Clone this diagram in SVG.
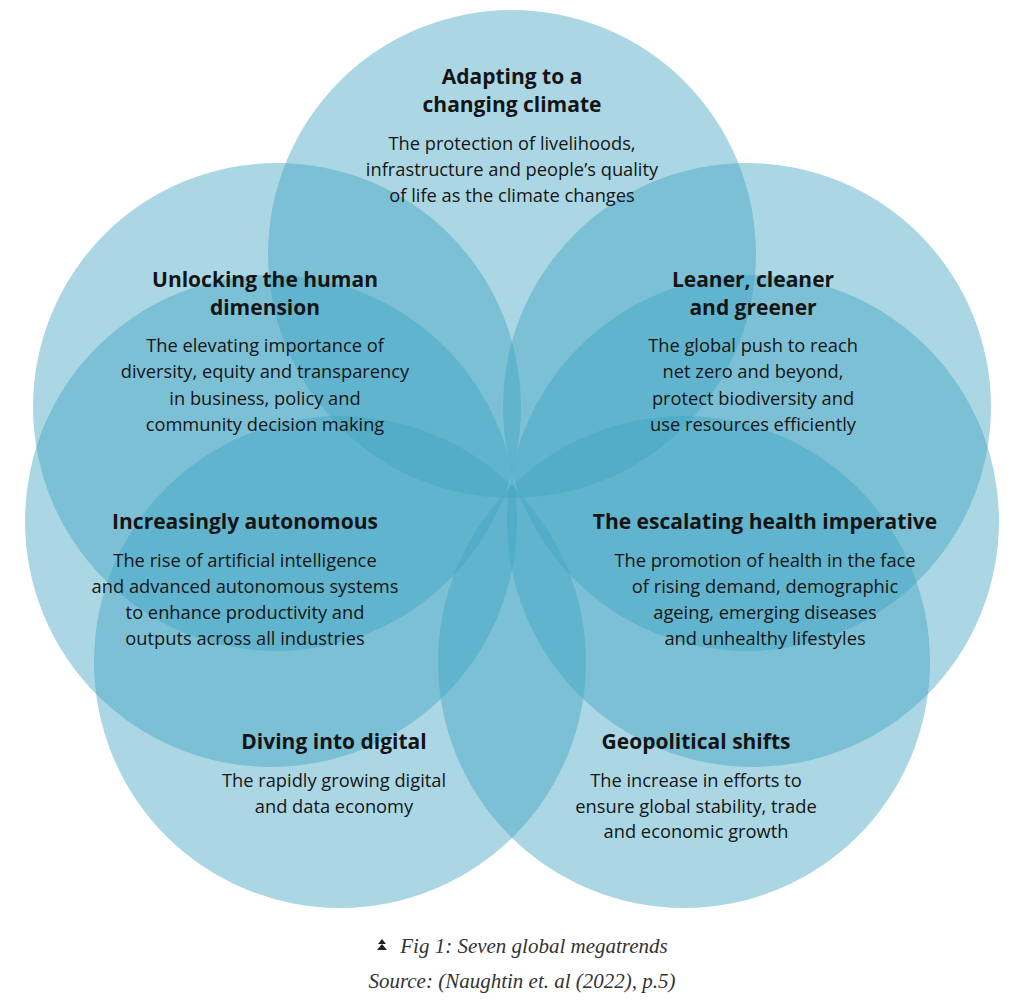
<svg xmlns="http://www.w3.org/2000/svg" width="1024" height="1002" viewBox="0 0 1024 1002">
<style>
.petal{fill:#3fa3c4;fill-opacity:0.44}
.t{font-family:"Open Sans","Noto Sans","Liberation Sans",sans-serif;font-weight:700;font-size:21px;fill:#141414;text-anchor:middle}
.b{font-family:"Open Sans","Noto Sans","Liberation Sans",sans-serif;font-weight:400;font-size:18.3px;fill:#151515;text-anchor:middle}
.cap{font-family:"Liberation Serif","DejaVu Serif",serif;font-style:italic;font-size:21px;fill:#333;text-anchor:middle}
</style>
<rect width="1024" height="1002" fill="#ffffff"/>
<g id="petals">
<circle id="petal-adapting" class="petal" cx="512" cy="254" r="244"/>
<circle id="petal-unlocking" class="petal" cx="277" cy="407" r="244"/>
<circle id="petal-leaner" class="petal" cx="747" cy="407" r="244"/>
<circle id="petal-autonomous" class="petal" cx="271" cy="521" r="246"/>
<circle id="petal-health" class="petal" cx="753" cy="521" r="246"/>
<circle id="petal-digital" class="petal" cx="340" cy="662" r="246"/>
<circle id="petal-geopolitical" class="petal" cx="684" cy="662" r="246"/>
</g>
<g id="connectors"></g>
<g id="node-adapting">
<text class="t" x="512" y="84">Adapting to a</text>
<text class="t" x="512" y="112">changing climate</text>
<text class="b" x="512" y="150">The protection of livelihoods,</text>
<text class="b" x="512" y="176">infrastructure and people’s quality</text>
<text class="b" x="512" y="202">of life as the climate changes</text>
</g>
<g id="node-unlocking">
<text class="t" x="265" y="287">Unlocking the human</text>
<text class="t" x="265" y="315">dimension</text>
<text class="b" x="265" y="352">The elevating importance of</text>
<text class="b" x="265" y="378">diversity, equity and transparency</text>
<text class="b" x="265" y="405">in business, policy and</text>
<text class="b" x="265" y="431">community decision making</text>
</g>
<g id="node-leaner">
<text class="t" x="753" y="287">Leaner, cleaner</text>
<text class="t" x="753" y="315">and greener</text>
<text class="b" x="753" y="352">The global push to reach</text>
<text class="b" x="753" y="378">net zero and beyond,</text>
<text class="b" x="753" y="405">protect biodiversity and</text>
<text class="b" x="753" y="431">use resources efficiently</text>
</g>
<g id="node-autonomous">
<text class="t" x="245" y="529">Increasingly autonomous</text>
<text class="b" x="245" y="567">The rise of artificial intelligence</text>
<text class="b" x="245" y="593">and advanced autonomous systems</text>
<text class="b" x="245" y="619">to enhance productivity and</text>
<text class="b" x="245" y="645">outputs across all industries</text>
</g>
<g id="node-health">
<text class="t" x="765" y="529">The escalating health imperative</text>
<text class="b" x="765" y="567">The promotion of health in the face</text>
<text class="b" x="765" y="593">of rising demand, demographic</text>
<text class="b" x="765" y="619">ageing, emerging diseases</text>
<text class="b" x="765" y="645">and unhealthy lifestyles</text>
</g>
<g id="node-digital">
<text class="t" x="334" y="749">Diving into digital</text>
<text class="b" x="334" y="787">The rapidly growing digital</text>
<text class="b" x="334" y="813">and data economy</text>
</g>
<g id="node-geopolitical">
<text class="t" x="696" y="749">Geopolitical shifts</text>
<text class="b" x="696" y="787">The increase in efforts to</text>
<text class="b" x="696" y="813">ensure global stability, trade</text>
<text class="b" x="696" y="838">and economic growth</text>
</g>
<g id="caption">
<polygon points="382,939 378,944 386,944" fill="#222"/>
<polygon points="382,944 377,950 387,950" fill="#222"/>
<text class="cap" x="534" y="953">Fig 1: Seven global megatrends</text>
<text class="cap" x="522" y="988">Source: (Naughtin et. al (2022), p.5)</text>
</g>
</svg>
